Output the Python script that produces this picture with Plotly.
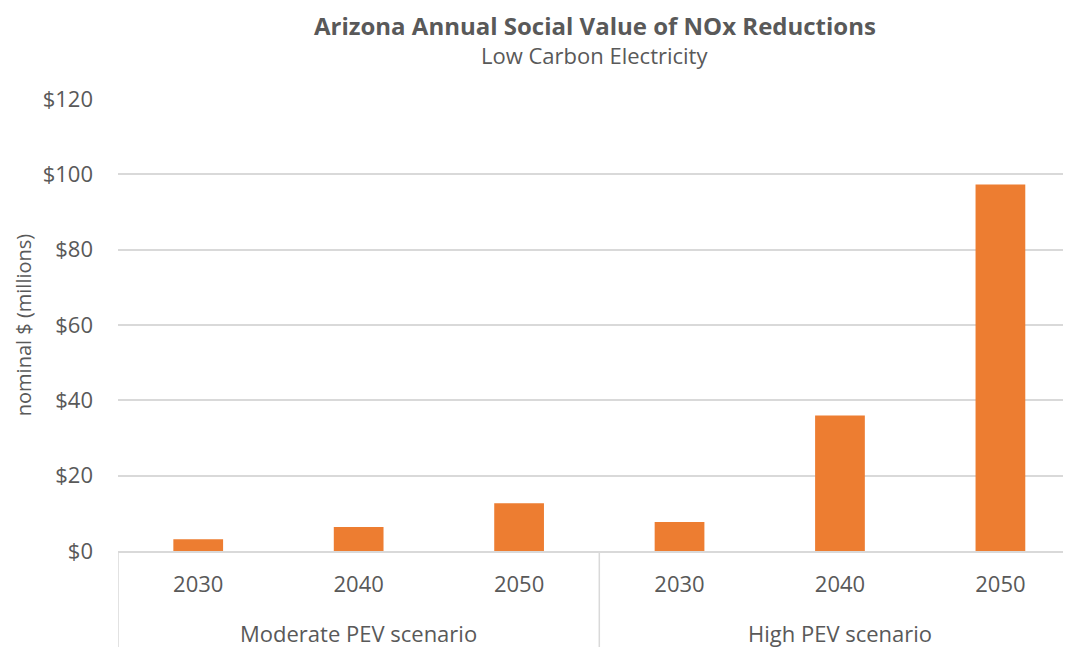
import plotly.graph_objects as go

# data
scenarios = ["Moderate PEV scenario", "High PEV scenario"]
years = ["2030", "2040", "2050"]
moderate_values = [3.1, 6.4, 12.7]   # nominal $ millions
high_values = [7.7, 36.0, 97.3]
y_ticks = [0, 20, 40, 60, 80, 100, 120]

FONT = "Open Sans"
GREY = "#595959"
LINE = "#D9D9D9"

# one slot per (scenario, year); ticks only show the year
slots = [s + " " + y for s in scenarios for y in years]
slot_years = [y for s in scenarios for y in years]
values = moderate_values + high_values

fig = go.Figure()
fig.add_trace(go.Bar(
    x=slots,
    y=values,
    marker=dict(color="#ED7D31", line=dict(width=0)),
    hoverinfo="y",
))

# the page body adds 8px, so the figure is 8px smaller than the window
fig.update_layout(
    width=1063,
    height=639,
    margin=dict(l=110, r=0, t=91, b=96),
    paper_bgcolor="white",
    plot_bgcolor="white",
    bargap=0.69,
    showlegend=False,
    font=dict(family=FONT, color=GREY, size=22),
)

fig.add_annotation(text="<b>Arizona Annual Social Value of NOx Reductions</b>",
                   xref="paper", yref="paper", x=0.5, y=1, yshift=74,
                   xanchor="center", yanchor="middle", showarrow=False,
                   font=dict(family=FONT, size=24, color=GREY))
fig.add_annotation(text="Low Carbon Electricity",
                   xref="paper", yref="paper", x=0.5, y=1, yshift=44,
                   xanchor="center", yanchor="middle", showarrow=False,
                   font=dict(family=FONT, size=22, color=GREY))

# group labels under the years, centred on the middle year of each group
for i, s in enumerate(scenarios):
    fig.add_annotation(text=s, xref="x", yref="paper", x=i * len(years) + 1, y=0,
                       yshift=-82, xanchor="center", yanchor="middle", showarrow=False,
                       font=dict(family=FONT, size=22, color=GREY))

# group dividers reaching down from the axis
for i in range(len(scenarios) + 1):
    fig.add_shape(type="line", xref="x", yref="paper",
                  x0=i * len(years) - 0.5, x1=i * len(years) - 0.5, y0=0, y1=-0.25,
                  line=dict(color=LINE, width=1.5))

fig.update_xaxes(
    type="category",
    range=[-0.5, 5.44],
    tickvals=slots,
    ticktext=slot_years,
    showline=True,
    linecolor=LINE,
    linewidth=1.5,
    showgrid=False,
    ticklabelstandoff=13,
    tickfont=dict(family=FONT, size=22, color=GREY),
)

fig.update_yaxes(
    range=[0, 120],
    tickvals=y_ticks,
    ticktext=["$" + str(v) for v in y_ticks],
    showgrid=True,
    gridcolor=LINE,
    gridwidth=1.5,
    zeroline=False,
    ticklabelstandoff=24,
    tickfont=dict(family=FONT, size=22, color=GREY),
    title=dict(text="nominal $ (millions)", font=dict(family=FONT, size=20, color=GREY),
               standoff=5),
)

fig.write_html("out.html")
